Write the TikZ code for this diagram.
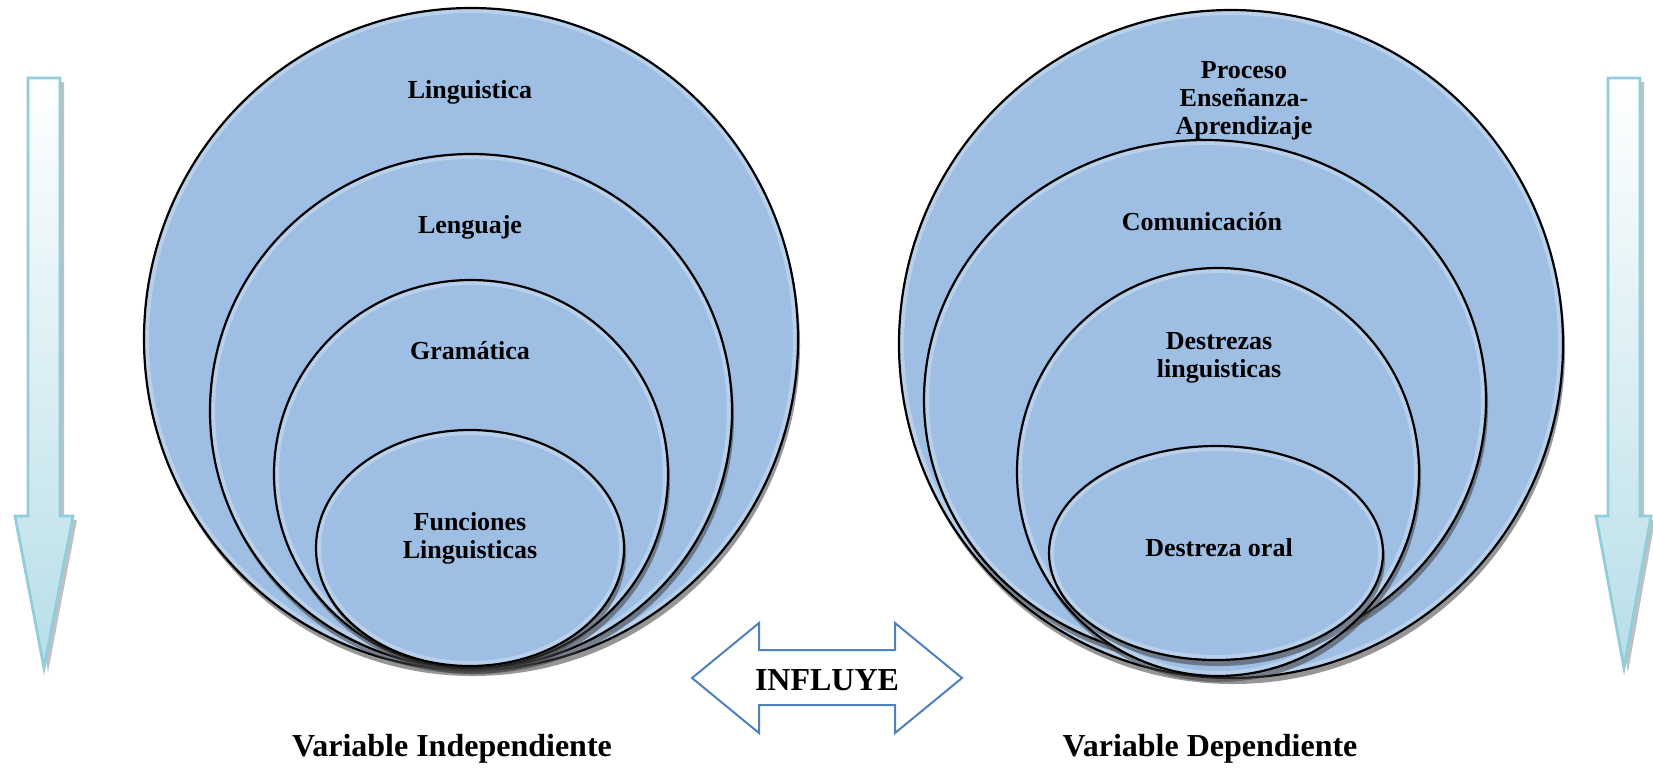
\documentclass[tikz,border=0pt]{standalone}
\usepackage{fontspec}
\setmainfont{Liberation Serif}
\usetikzlibrary{shapes.geometric,shadows,calc}
\definecolor{efill}{RGB}{158,190,228}
\definecolor{arrline}{RGB}{146,205,221}
\definecolor{arrfill}{RGB}{183,222,232}
\definecolor{dblue}{RGB}{79,129,189}
\tikzset{
  ring/.style={ellipse, draw=black, line width=1.1pt, fill=efill, inner sep=0pt, outer sep=0pt,
    drop shadow={shadow xshift=1pt, shadow yshift=-3pt, opacity=0.55, fill=black!75},
    path picture={
      \draw[white, opacity=0.28, line width=5pt]
        let \p1=(path picture bounding box.north east), \p2=(path picture bounding box.south west) in
        (path picture bounding box.center) ellipse [x radius={(\x1-\x2)/2}, y radius={(\y1-\y2)/2}];
    }},
  lbl/.style={font=\bfseries\fontsize{13}{14}\selectfont, align=center, inner sep=0pt},
  biglbl/.style={font=\bfseries\fontsize{16}{18}\selectfont, inner sep=0pt},
  varrow/.style={top color=white, bottom color=arrfill, draw=arrline, line width=1.4pt},
  varrowshadow/.style={fill=black!45, opacity=0.55},
  dblarrow/.style={draw=dblue, line width=1pt, fill=white},
}
\begin{document}
\begin{tikzpicture}[x=0.5pt, y=-0.5pt]
\useasboundingbox (0,0) rectangle (1653,768);

% left vertical arrow
\fill[varrowshadow, xshift=2pt, yshift=-2pt] (28,78) -- (60,78) -- (60,516) -- (73,516) -- (44,668) -- (15,516) -- (28,516) -- cycle;
\shadedraw[varrow] (28,78) -- (60,78) -- (60,516) -- (73,516) -- (44,668) -- (15,516) -- (28,516) -- cycle;

% right vertical arrow
\fill[varrowshadow, xshift=2pt, yshift=-2pt] (1608,78) -- (1640,78) -- (1640,516) -- (1651,516) -- (1624,668) -- (1596,516) -- (1608,516) -- cycle;
\shadedraw[varrow] (1608,78) -- (1640,78) -- (1640,516) -- (1651,516) -- (1624,668) -- (1596,516) -- (1608,516) -- cycle;

% left group
\node[ring, minimum width=327pt, minimum height=331pt] (L1) at (471,339) {};
\node[ring, minimum width=261pt, minimum height=257pt] (L2) at (471,411) {};
\node[ring, minimum width=197pt, minimum height=194pt] (L3) at (471,474) {};
\node[ring, minimum width=154pt, minimum height=118pt] (L4) at (470,548) {};
\node[lbl] (tL1) at (470,92) {Linguistica};
\node[lbl] (tL2) at (470,227) {Lenguaje};
\node[lbl] (tL3) at (470,351) {Gramática};
\node[lbl] (tL4) at (470,538) {Funciones\\Linguisticas};

% right group
\node[ring, minimum width=332pt, minimum height=334pt] (R1) at (1231,344) {};
\node[ring, minimum width=281pt, minimum height=260pt] (R2) at (1205,400) {};
\node[ring, minimum width=201pt, minimum height=204pt] (R3) at (1218,472) {};
\node[ring, minimum width=167pt, minimum height=107pt] (R4) at (1216,553) {};
\node[lbl] (tR1) at (1244,101) {Proceso\\Enseñanza-\\Aprendizaje};
\node[lbl] (tR2) at (1202,222) {Comunicación};
\node[lbl] (tR3) at (1219,358) {Destrezas\\linguisticas};
\node[lbl] (tR4) at (1219,548) {Destreza oral};

% double arrow
\draw[dblarrow] (692,678) -- (759,623) -- (759,650) -- (895,650) -- (895,623) -- (962,678)
  -- (895,733) -- (895,705) -- (759,705) -- (759,733) -- cycle;
\node[biglbl] (infl) at (827,680) {INFLUYE};

\node[biglbl] (vi) at (452,749) {Variable Independiente};
\node[biglbl] (vd) at (1210,749) {Variable Dependiente};
\end{tikzpicture}
\end{document}
